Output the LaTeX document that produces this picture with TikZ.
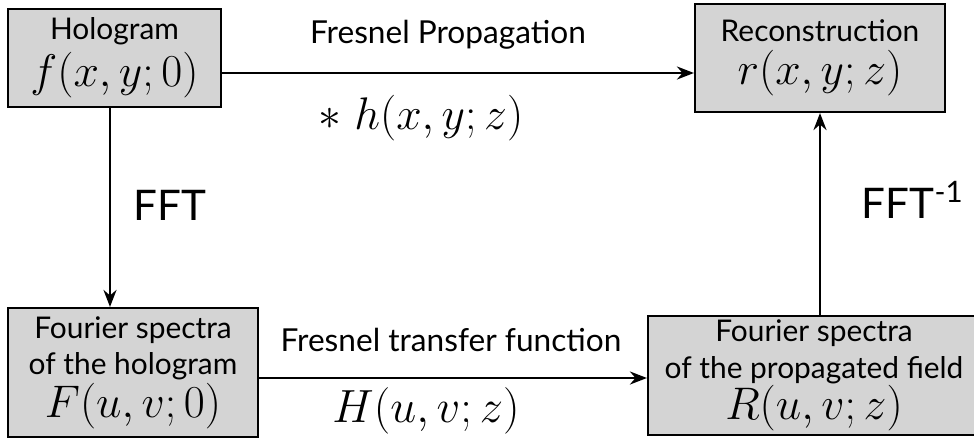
\documentclass[tikz,border=0pt]{standalone}
\usepackage{fix-cm}
\usepackage{fontspec}
\setsansfont{Lato}
\usetikzlibrary{arrows.meta, positioning}
\definecolor{cbox}{HTML}{D4D4D4}
\tikzset{
  every picture/.style={font=\sffamily, line width=1.2pt},
  box/.style={draw=black, fill=cbox, align=center, inner sep=1pt,
    font=\sffamily\fontsize{17}{20.5}\selectfont},
  arrow/.style={-{Stealth[length=3.4mm, width=2.6mm]}, draw=black, line width=1.4pt},
  label/.style={font=\sffamily\fontsize{18}{21}\selectfont},
  biglabel/.style={font=\sffamily\fontsize{24}{28}\selectfont},
  formula/.style={font=\fontsize{26}{30}\selectfont},
}
\newcommand{\bigmath}[1]{{\fontsize{26}{29}\selectfont$#1$}}

\begin{document}
\begin{tikzpicture}
  \useasboundingbox (0,0) rectangle (19.48,-8.8);
  \node[box, minimum width=4.26cm, minimum height=1.96cm] (holo) at (2.29,-1.16)
    {Hologram\\[3pt] \bigmath{f(x,y;0)}};
  \node[box, minimum width=5.0cm, minimum height=2.16cm] (recon) at (16.4,-1.16)
    {Reconstruction\\[4pt] \bigmath{r(x,y;z)}};
  \node[box, minimum width=5.0cm, minimum height=2.58cm] (fspec) at (2.66,-7.45)
    {Fourier spectra\\ of the hologram\\[1pt] \bigmath{F(u,v;0)}};
  \node[box, minimum width=6.64cm, minimum height=2.38cm] (rspec) at (16.28,-7.51)
    {Fourier spectra\\ of the propagated field\\ \bigmath{R(u,v;z)}};
  \draw[arrow] (holo.east |- 0,-1.46) -- (recon.west |- 0,-1.46);
  \draw[arrow] (holo.south -| 2.2,0) -- (fspec.north -| 2.2,0);
  \draw[arrow] (fspec.east |- 0,-7.56) -- (rspec.west |- 0,-7.56);
  \draw[arrow] (recon.south |- rspec.north) -- (recon.south);
  \node[label] (fresnel) at (8.96,-0.7) {Fresnel Propagation};
  \node[formula] (hconv) at (8.42,-2.36) {$*\;h(x,y;z)$};
  \node[biglabel] (fft) at (3.4,-4.1) {FFT};
  \node[biglabel, anchor=west] (ifft) at (17.1,-4.0) {FFT\textsuperscript{-1}};
  \node[label] (transfer) at (9.02,-6.8) {Fresnel transfer function};
  \node[formula, font=\fontsize{26.5}{30}\selectfont] (hfun) at (8.52,-8.22) {$H(u,v;z)$};
\end{tikzpicture}
\end{document}
